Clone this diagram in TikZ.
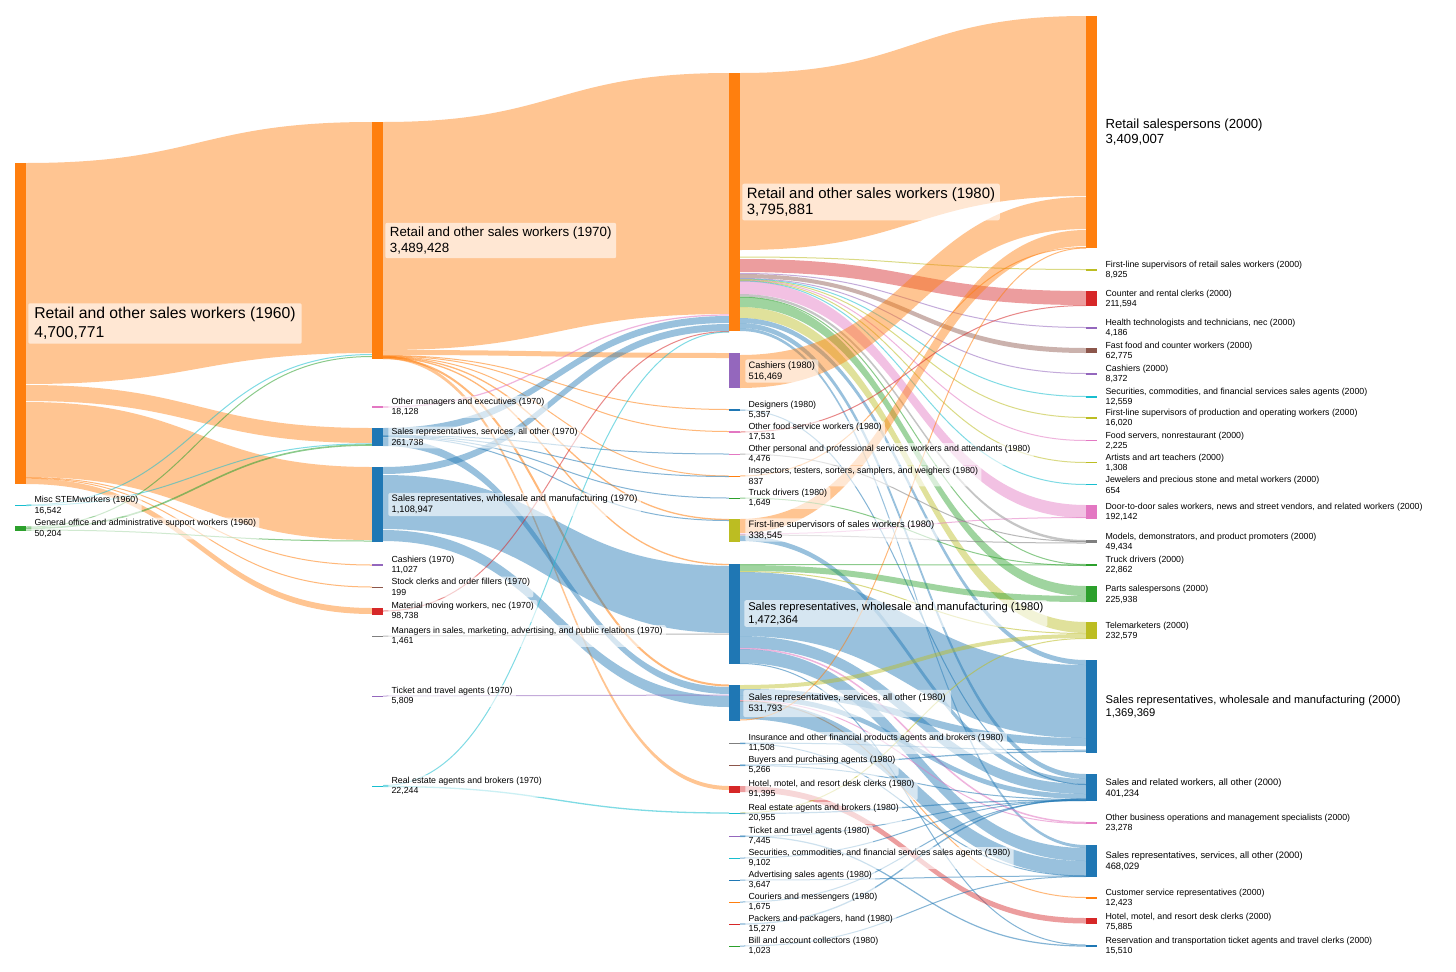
\documentclass[tikz,border=0pt]{standalone}
\usepackage{fontspec}
\setmainfont{Liberation Sans}
\definecolor{cblue}{HTML}{1F77B4}
\definecolor{corange}{HTML}{FF7F0E}
\definecolor{cgreen}{HTML}{2CA02C}
\definecolor{cred}{HTML}{D62728}
\definecolor{cpurple}{HTML}{9467BD}
\definecolor{cbrown}{HTML}{8C564B}
\definecolor{cpink}{HTML}{E377C2}
\definecolor{cgray}{HTML}{7F7F7F}
\definecolor{colive}{HTML}{BCBD22}
\definecolor{ccyan}{HTML}{17BECF}
% band: x1, y1top, y1bot, x2, y2top, y2bot, colour
\newcommand\sbband[7]{\fill[#7, fill opacity=0.45] (#1,#2) .. controls ({(#1+#4)/2},#2) and ({(#1+#4)/2},#5) .. (#4,#5) -- (#4,#6) .. controls ({(#1+#4)/2},#6) and ({(#1+#4)/2},#3) .. (#1,#3) -- cycle;}
% thin link: x1, y1, x2, y2, colour, width(px)
\newcommand\sblink[6]{\draw[#5, draw opacity=0.55, line width={#6*0.75pt}] (#1,#2) .. controls ({(#1+#3)/2},#2) and ({(#1+#3)/2},#4) .. (#3,#4);}
% bar node: name, ytop, ybot, x, colour
\newcommand\sbnode[5]{\node[fill=#5, inner sep=0pt, outer sep=0pt, minimum width=8.25pt, minimum height={(#3-#2)*0.75pt}, anchor=north west] (#1) at (#4,#2) {};}
\newcommand\fsm{\fontsize{6.6}{7.8}\selectfont}
\newcommand\fmd{\fontsize{7}{8.3}\selectfont}
\newcommand\fsw{\fontsize{8.4}{9.8}\selectfont}
\begin{document}
\begin{tikzpicture}[x=0.75pt,y=-0.75pt,
  lab/.style={anchor=west, align=left, fill=white, fill opacity=0.6, text opacity=1, rounded corners=1.5pt, inner xsep=2.5pt, inner ysep=1.5pt, font=\fsm}]
\useasboundingbox (0,0) rectangle (1456,971);
\fill[white] (0,0) rectangle (1456,971);

% ---------- 1960 -> 1970 ----------
\sbband{26}{163}{384}{372}{122}{353}{corange}
\sbband{26}{385}{401}{372}{428}{443}{corange}
\sbband{26}{402}{477}{372}{467}{540}{corange}
\sblink{26}{477.5}{372}{565}{corange}{1}
\sblink{26}{478.2}{372}{587}{corange}{1}
\sbband{26}{478.5}{484}{372}{608}{614}{corange}
\sblink{26}{505}{372}{354.5}{ccyan}{1}
\sblink{26}{505.5}{372}{443.8}{ccyan}{1}
\sblink{26}{527}{372}{356.5}{cgreen}{1}
\sblink{26}{528.3}{372}{445}{cgreen}{1.6}
\sblink{26}{530}{372}{541}{cgreen}{1}

% ---------- 1970 -> 1980 ----------
\sbband{383}{122}{350}{729}{73}{314}{corange}
\sbband{383}{350}{355}{729}{353}{358}{corange}
\sblink{383}{355.5}{729}{409.5}{corange}{1}
\sblink{383}{356}{729}{431.5}{corange}{1}
\sblink{383}{356.5}{729}{476}{corange}{1}
\sblink{383}{357}{729}{519.5}{corange}{1.3}
\sblink{383}{357.5}{729}{564.5}{corange}{1.3}
\sblink{383}{358}{729}{685.5}{corange}{2}
\sbband{383}{355.5}{359}{729}{786}{790}{corange}
\sblink{383}{407}{729}{315}{cpink}{1.2}
\sbband{383}{428}{435}{729}{316}{323}{cblue}
\sblink{383}{435.5}{729}{454}{cblue}{1}
\sblink{383}{436}{729}{476.5}{cblue}{1}
\sblink{383}{436.5}{729}{498}{cblue}{1}
\sblink{383}{437}{729}{520.5}{cblue}{1}
\sbband{383}{438}{446}{729}{687}{694}{cblue}
\sbband{383}{467}{474}{729}{324}{331}{cblue}
\sbband{383}{475}{529}{729}{566}{633}{cblue}
\sbband{383}{530}{541}{729}{696}{707}{cblue}
\sblink{383}{611}{729}{331.5}{cred}{1}
\sblink{383}{636}{729}{634}{cgray}{1}
\sblink{383}{696}{729}{695}{cpurple}{1}
\sblink{383}{785.5}{729}{332}{ccyan}{1}
\sblink{383}{786.5}{729}{813}{ccyan}{1.3}

% ---------- 1980 -> 2000 ----------
\sbband{740}{73}{250}{1086}{16}{196}{corange}
\sblink{740}{257}{1086}{269.5}{colive}{1}
\sbband{740}{259}{272}{1086}{291}{305}{cred}
\sblink{740}{273.5}{1086}{327.5}{cpurple}{1}
\sbband{740}{274}{278}{1086}{348}{353}{cbrown}
\sblink{740}{278.5}{1086}{373.5}{cpurple}{1}
\sblink{740}{279}{1086}{396.5}{ccyan}{1}
\sblink{740}{279.5}{1086}{417.5}{colive}{1}
\sblink{740}{280}{1086}{440.5}{cpink}{1}
\sblink{740}{280.5}{1086}{462.5}{colive}{1}
\sblink{740}{281}{1086}{484.5}{ccyan}{1}
\sbband{740}{281}{294}{1086}{505}{518}{cpink}
\sbband{740}{294}{296.5}{1086}{540}{542.5}{cgray}
\sblink{740}{297}{1086}{564.5}{cgreen}{1}
\sbband{740}{297}{307}{1086}{586}{596}{cgreen}
\sbband{740}{307}{318}{1086}{622}{633}{colive}
\sbband{740}{318}{323}{1086}{660}{665}{cblue}
\sbband{740}{323}{328}{1086}{774}{779}{cblue}
\sbband{740}{328}{331}{1086}{845}{848}{cblue}
\sbband{740}{355}{388}{1086}{197}{229}{corange}
\sbband{740}{519}{533}{1086}{230}{246}{corange}
\sblink{740}{534}{1086}{517.5}{cpink}{1}
\sblink{740}{535}{1086}{543}{cgray}{1}
\sbband{740}{536}{541}{1086}{779}{784}{cblue}
\sblink{740}{410}{1086}{784.5}{cblue}{1}
\sblink{740}{432}{1086}{305.5}{cred}{1}
\sblink{740}{454}{1086}{541.5}{cgray}{1}
\sblink{740}{476}{1086}{247.5}{corange}{1}
\sblink{740}{498}{1086}{565.5}{cgreen}{1}
\sblink{740}{564.5}{1086}{565}{cgreen}{1}
\sbband{740}{565}{571}{1086}{596}{602}{cgreen}
\sblink{740}{571.5}{1086}{633.5}{colive}{1}
\sbband{740}{572}{636}{1086}{665}{738}{cblue}
\sbband{740}{636}{648}{1086}{784}{794}{cblue}
\sblink{740}{648.5}{1086}{822.5}{cpink}{1.5}
\sbband{740}{649}{663}{1086}{848}{861}{cblue}
\sblink{740}{663.5}{1086}{945}{cblue}{1}
\sbband{740}{685}{689}{1086}{634}{638}{colive}
\sbband{740}{689}{695}{1086}{738}{746}{cblue}
\sbband{740}{695}{700}{1086}{794}{799}{cblue}
\sblink{740}{700.5}{1086}{823.5}{cpink}{1}
\sblink{740}{701}{1086}{897.5}{corange}{1}
\sbband{740}{701}{719}{1086}{861}{876}{cblue}
\sblink{740}{720}{1086}{248}{corange}{1}
\sblink{740}{743}{1086}{750}{cblue}{1}
\sblink{740}{743.5}{1086}{876}{cblue}{1}
\sblink{740}{765}{1086}{751.5}{cblue}{1.2}
\sblink{740}{765.5}{1086}{799.5}{cblue}{1}
\sbband{740}{786}{792}{1086}{918}{923.5}{cred}
\sblink{740}{813}{1086}{638.5}{colive}{1}
\sblink{740}{813.5}{1086}{800}{cblue}{1.2}
\sblink{740}{836}{1086}{946}{cblue}{1.2}
\sblink{740}{836.5}{1086}{800.5}{cblue}{1}
\sblink{740}{858}{1086}{800.5}{cblue}{1}
\sblink{740}{880}{1086}{876}{cblue}{1}
\sblink{740}{902}{1086}{800}{cblue}{1}
\sblink{740}{924}{1086}{799}{cblue}{1.3}
\sblink{740}{946}{1086}{876.5}{cblue}{1}

% ---------- nodes ----------
\sbnode{r60}{163}{484}{15}{corange}
\sbnode{stem60}{504.5}{506}{15}{ccyan}
\sbnode{go60}{526}{530.5}{15}{cgreen}

\sbnode{r70}{122}{359}{372}{corange}
\sbnode{om70}{406}{407.5}{372}{cpink}
\sbnode{ss70}{428}{446}{372}{cblue}
\sbnode{sw70}{467}{542}{372}{cblue}
\sbnode{ca70}{564}{565.5}{372}{cpurple}
\sbnode{st70}{586.5}{587.8}{372}{cbrown}
\sbnode{mm70}{608}{614.5}{372}{cred}
\sbnode{ms70}{635.5}{636.8}{372}{cgray}
\sbnode{tt70}{695.5}{696.8}{372}{cpurple}
\sbnode{re70}{785.5}{787}{372}{ccyan}

\sbnode{r80}{73}{331}{729}{corange}
\sbnode{ca80}{353}{388}{729}{cpurple}
\sbnode{de80}{409}{410.5}{729}{cblue}
\sbnode{of80}{431}{432.5}{729}{cpink}
\sbnode{op80}{453.5}{454.8}{729}{cpink}
\sbnode{in80}{475.5}{476.8}{729}{corange}
\sbnode{td80}{497.5}{498.8}{729}{cgreen}
\sbnode{fs80}{519}{542}{729}{colive}
\sbnode{sw80}{564}{664}{729}{cblue}
\sbnode{ss80}{685}{721}{729}{cblue}
\sbnode{ins80}{742.5}{744}{729}{cgray}
\sbnode{bu80}{764.5}{765.8}{729}{cbrown}
\sbnode{ho80}{786}{793}{729}{cred}
\sbnode{re80}{812.5}{814}{729}{ccyan}
\sbnode{tt80}{835.5}{836.8}{729}{cpurple}
\sbnode{se80}{857.5}{859}{729}{ccyan}
\sbnode{ad80}{879.5}{880.8}{729}{cblue}
\sbnode{co80}{901.5}{902.8}{729}{corange}
\sbnode{pa80}{923.5}{925}{729}{cred}
\sbnode{bi80}{945.5}{946.8}{729}{cgreen}

\sbnode{r00}{16}{248}{1086}{corange}
\sbnode{fr00}{269}{270.5}{1086}{colive}
\sbnode{cr00}{291}{306}{1086}{cred}
\sbnode{ht00}{327.3}{328.6}{1086}{cpurple}
\sbnode{ff00}{348}{353}{1086}{cbrown}
\sbnode{ca00}{373}{374.5}{1086}{cpurple}
\sbnode{se00}{396}{397.5}{1086}{ccyan}
\sbnode{fp00}{417}{418.6}{1086}{colive}
\sbnode{fo00}{440}{441.3}{1086}{cpink}
\sbnode{ar00}{462}{463.3}{1086}{colive}
\sbnode{je00}{484}{485.3}{1086}{ccyan}
\sbnode{dd00}{505}{519}{1086}{cpink}
\sbnode{mo00}{540}{543}{1086}{cgray}
\sbnode{td00}{564}{566}{1086}{cgreen}
\sbnode{pa00}{586}{602}{1086}{cgreen}
\sbnode{te00}{622}{639}{1086}{colive}
\sbnode{sw00}{660}{753}{1086}{cblue}
\sbnode{so00}{774}{801}{1086}{cblue}
\sbnode{ob00}{822}{823.6}{1086}{cpink}
\sbnode{ss00}{845}{877}{1086}{cblue}
\sbnode{cs00}{897}{898.5}{1086}{corange}
\sbnode{ho00}{918}{924}{1086}{cred}
\sbnode{rt00}{945}{946.6}{1086}{cblue}

% ---------- labels ----------
\node[lab, font=\fontsize{11.8}{14.3}\selectfont, inner xsep=4.5pt, inner ysep=3pt] (l-r60) at (28,323.5) {Retail and other sales workers (1960)\\4,700,771};
\node[lab] (l-stem60) at (31,505.5) {Misc STEMworkers (1960)\\16,542};
\node[lab] (l-go60) at (31,528.5) {General office and administrative support workers (1960)\\50,204};

\node[lab, font=\fontsize{10}{12}\selectfont, inner xsep=3.5pt, inner ysep=3pt] (l-r70) at (385,240.5) {Retail and other sales workers (1970)\\3,489,428};
\node[lab] (l-om70) at (388,407) {Other managers and executives (1970)\\18,128};
\node[lab] (l-ss70) at (388,437.5) {Sales representatives, services, all other (1970)\\261,738};
\node[lab, font=\fmd] (l-sw70) at (388,504.5) {Sales representatives, wholesale and manufacturing (1970)\\1,108,947};
\node[lab] (l-ca70) at (388,565) {Cashiers (1970)\\11,027};
\node[lab] (l-st70) at (388,587) {Stock clerks and order fillers (1970)\\199};
\node[lab] (l-mm70) at (388,611) {Material moving workers, nec (1970)\\98,738};
\node[lab] (l-ms70) at (388,636) {Managers in sales, marketing, advertising, and public relations (1970)\\1,461};
\node[lab] (l-tt70) at (388,696) {Ticket and travel agents (1970)\\5,809};
\node[lab] (l-re70) at (388,786) {Real estate agents and brokers (1970)\\22,244};

\node[lab, font=\fontsize{11.2}{12}\selectfont, inner xsep=3.5pt, inner ysep=3pt] (l-r80) at (742,202) {Retail and other sales workers (1980)\\3,795,881};
\node[lab, font=\fmd] (l-ca80) at (745,371) {Cashiers (1980)\\516,469};
\node[lab] (l-de80) at (745,410) {Designers (1980)\\5,357};
\node[lab] (l-of80) at (745,432) {Other food service workers (1980)\\17,531};
\node[lab] (l-op80) at (745,454) {Other personal and professional services workers and attendants (1980)\\4,476};
\node[lab] (l-in80) at (745,476) {Inspectors, testers, sorters, samplers, and weighers (1980)\\837};
\node[lab] (l-td80) at (745,498) {Truck drivers (1980)\\1,649};
\node[lab, font=\fmd] (l-fs80) at (745,530) {First-line supervisors of sales workers (1980)\\338,545};
\node[lab, font=\fsw, inner xsep=3pt] (l-sw80) at (744,613.5) {Sales representatives, wholesale and manufacturing (1980)\\1,472,364};
\node[lab, font=\fmd, inner ysep=3pt, inner xsep=4pt] (l-ss80) at (743,703.5) {Sales representatives, services, all other (1980)\\531,793};
\node[lab] (l-ins80) at (745,743) {Insurance and other financial products agents and brokers (1980)\\11,508};
\node[lab] (l-bu80) at (745,765) {Buyers and purchasing agents (1980)\\5,266};
\node[lab] (l-ho80) at (745,789) {Hotel, motel, and resort desk clerks (1980)\\91,395};
\node[lab] (l-re80) at (745,813) {Real estate agents and brokers (1980)\\20,955};
\node[lab] (l-tt80) at (745,836) {Ticket and travel agents (1980)\\7,445};
\node[lab] (l-se80) at (745,858) {Securities, commodities, and financial services sales agents (1980)\\9,102};
\node[lab] (l-ad80) at (745,880) {Advertising sales agents (1980)\\3,647};
\node[lab] (l-co80) at (745,902) {Couriers and messengers (1980)\\1,675};
\node[lab] (l-pa80) at (745,924) {Packers and packagers, hand (1980)\\15,279};
\node[lab] (l-bi80) at (745,946) {Bill and account collectors (1980)\\1,023};

\node[lab, font=\fontsize{9.9}{11.3}\selectfont, fill opacity=0] (l-r00) at (1102,132) {Retail salespersons (2000)\\3,409,007};
\node[lab] (l-fr00) at (1102,270) {First-line supervisors of retail sales workers (2000)\\8,925};
\node[lab] (l-cr00) at (1102,299) {Counter and rental clerks (2000)\\211,594};
\node[lab] (l-ht00) at (1102,328) {Health technologists and technicians, nec (2000)\\4,186};
\node[lab] (l-ff00) at (1102,351) {Fast food and counter workers (2000)\\62,775};
\node[lab] (l-ca00) at (1102,374) {Cashiers (2000)\\8,372};
\node[lab] (l-se00) at (1102,397) {Securities, commodities, and financial services sales agents (2000)\\12,559};
\node[lab] (l-fp00) at (1102,418) {First-line supervisors of production and operating workers (2000)\\16,020};
\node[lab] (l-fo00) at (1102,441) {Food servers, nonrestaurant (2000)\\2,225};
\node[lab] (l-ar00) at (1102,463) {Artists and art teachers (2000)\\1,308};
\node[lab] (l-je00) at (1102,485) {Jewelers and precious stone and metal workers (2000)\\654};
\node[lab] (l-dd00) at (1102,512) {Door-to-door sales workers, news and street vendors, and related workers (2000)\\192,142};
\node[lab] (l-mo00) at (1102,542) {Models, demonstrators, and product promoters (2000)\\49,434};
\node[lab] (l-td00) at (1102,565) {Truck drivers (2000)\\22,862};
\node[lab] (l-pa00) at (1102,594.5) {Parts salespersons (2000)\\225,938};
\node[lab] (l-te00) at (1102,631) {Telemarketers (2000)\\232,579};
\node[lab, font=\fsw] (l-sw00) at (1102,707) {Sales representatives, wholesale and manufacturing (2000)\\1,369,369};
\node[lab, font=\fmd] (l-so00) at (1102,788) {Sales and related workers, all other (2000)\\401,234};
\node[lab] (l-ob00) at (1102,823) {Other business operations and management specialists (2000)\\23,278};
\node[lab, font=\fmd] (l-ss00) at (1102,861) {Sales representatives, services, all other (2000)\\468,029};
\node[lab] (l-cs00) at (1102,898) {Customer service representatives (2000)\\12,423};
\node[lab] (l-ho00) at (1102,922) {Hotel, motel, and resort desk clerks (2000)\\75,885};
\node[lab] (l-rt00) at (1102,946) {Reservation and transportation ticket agents and travel clerks (2000)\\15,510};
\end{tikzpicture}
\end{document}
